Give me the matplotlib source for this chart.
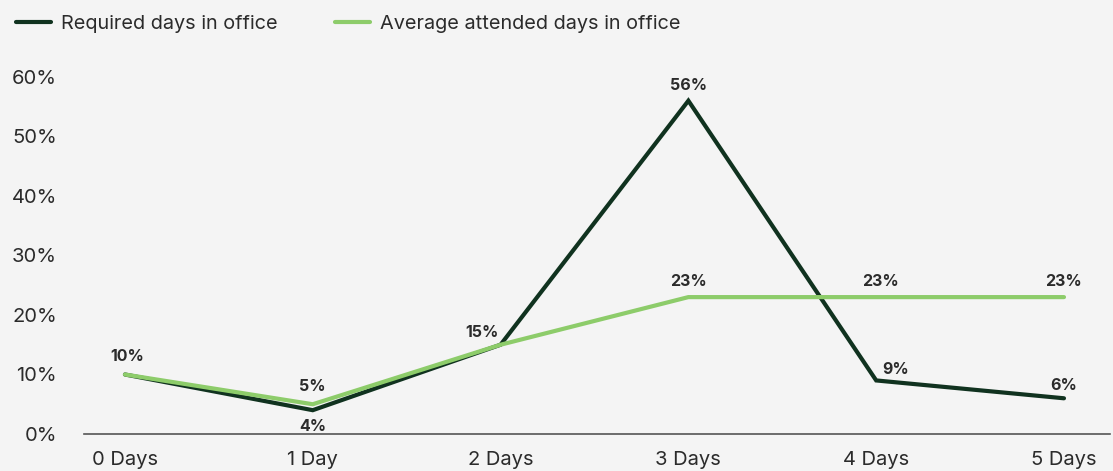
import matplotlib
matplotlib.use("Agg")
import matplotlib.pyplot as plt
from matplotlib.lines import Line2D

plt.rcParams['font.family'] = ['Inter', 'DejaVu Sans']

categories = ["0 Days", "1 Day", "2 Days", "3 Days", "4 Days", "5 Days"]
required = [10, 4, 15, 56, 9, 6]
attended = [10, 5, 15, 23, 23, 23]
y_ticks = [0, 10, 20, 30, 40, 50, 60]

BG = "#f4f4f4"
DARK = "#10321f"
GREEN = "#8dcc6a"
TEXT = "#2b2b2b"

fig = plt.figure(figsize=(11.13, 4.71), dpi=100, facecolor=BG)
ax = fig.add_axes([84 / 1113, 1 - 434 / 471, (1110 - 84) / 1113, (434 - 65) / 471])
ax.set_facecolor(BG)

x = list(range(len(categories)))
ax.plot(x, required, color=DARK, lw=3.0, solid_capstyle="round", solid_joinstyle="miter", zorder=3)
ax.plot(x, attended, color=GREEN, lw=3.0, solid_capstyle="round", solid_joinstyle="miter", zorder=4)

ax.set_xlim(-0.218, 5.245)
ax.set_ylim(0, 62)
ax.set_xticks(x)
ax.set_xticklabels(categories)
ax.set_yticks(y_ticks)
ax.set_yticklabels([f"{v}%" for v in y_ticks])
ax.tick_params(axis="both", length=0, labelsize=14.5, colors=TEXT)
ax.tick_params(axis="y", pad=19.5)
ax.tick_params(axis="x", pad=12.5)
for s in ["top", "right", "left"]:
    ax.spines[s].set_visible(False)
ax.spines["bottom"].set_color("#555555")
ax.spines["bottom"].set_linewidth(1.2)

lab = dict(fontsize=11.5, fontweight="bold", color=TEXT, ha="center")

# Value labels placed with pixel offsets from each point
def put(xi, yi, txt, dx, dy, va="bottom"):
    ax.annotate(txt, (xi, yi), xytext=(dx * 0.72, dy * 0.72), textcoords="offset points",
                va=va, **lab)

# shared first point
put(0, required[0], f"{required[0]}%", 2, 10)
# 1 Day
put(1, attended[1], f"{attended[1]}%", 0, 10)
put(1, required[1], f"{required[1]}%", 0, -9, va="top")
# 2 Days
put(2, required[2], f"{required[2]}%", -19, 5)
# 3 Days
put(3, required[3], f"{required[3]}%", 0, 8)
put(3, attended[3], f"{attended[3]}%", 0, 8)
# 4 Days
put(4, attended[4], f"{attended[4]}%", 4, 8)
put(4, required[4], f"{required[4]}%", 19, 3)
# 5 Days
put(5, attended[5], f"{attended[5]}%", 0, 8)
put(5, required[5], f"{required[5]}%", 0, 5)

handles = [Line2D([], [], color=DARK, lw=3.0, solid_capstyle="round"),
           Line2D([], [], color=GREEN, lw=3.0, solid_capstyle="round")]
fig.legend(handles, ["Required days in office", "Average attended days in office"],
           loc="upper left", bbox_to_anchor=(-0.002, 1.007), ncol=2, frameon=False,
           fontsize=14.3, handlelength=1.8, handletextpad=0.5, columnspacing=2.85,
           labelcolor=TEXT)

fig.savefig("out.png", dpi=100, facecolor=BG)
